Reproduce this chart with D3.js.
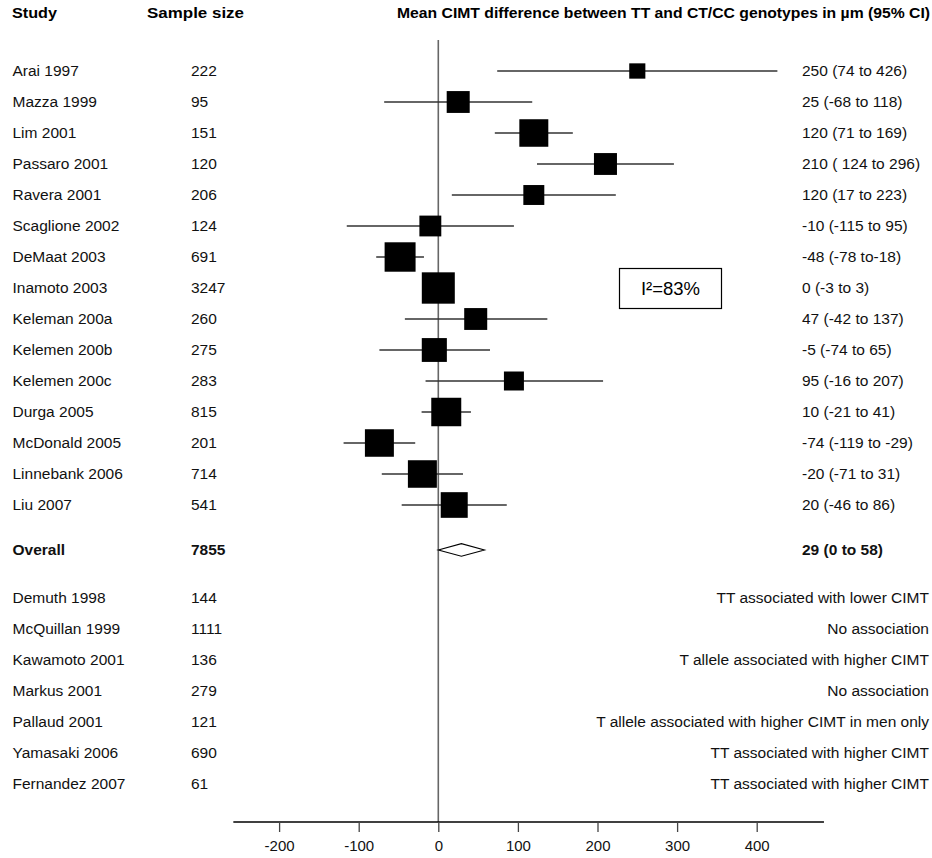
<!DOCTYPE html>
<html>
<head>
<meta charset="utf-8">
<script src="https://cdn.jsdelivr.net/npm/d3@7"></script>
<style>
  html, body { margin: 0; padding: 0; background: #fff; }
  svg { display: block; font-family: "Liberation Sans", Arial, Helvetica, sans-serif; }
</style>
</head>
<body>
<svg id="chart" width="932" height="858"></svg>
<script>
// ---------------- DATA ----------------
const studies = ["Arai 1997","Mazza 1999","Lim 2001","Passaro 2001","Ravera 2001","Scaglione 2002",
  "DeMaat 2003","Inamoto 2003","Keleman 200a","Kelemen 200b","Kelemen 200c","Durga 2005",
  "McDonald 2005","Linnebank 2006","Liu 2007"];
const sampleSizes = [222,95,151,120,206,124,691,3247,260,275,283,815,201,714,541];
const meanDiff = [250,25,120,210,120,-10,-48,0,47,-5,95,10,-74,-20,20];
const ciLow    = [74,-68,71,124,17,-115,-78,-3,-42,-74,-16,-21,-119,-71,-46];
const ciHigh   = [426,118,169,296,223,95,-18,3,137,65,207,41,-29,31,86];
const weights  = [2.6,5.3,8.4,5.3,4.4,4.8,9.6,10.9,5.3,6.3,4.0,9.0,8.4,8.4,7.3]; // relative weight (%)
const ciLabels = ["250 (74 to 426)","25 (-68 to 118)","120 (71 to 169)","210 ( 124 to 296)",
  "120 (17 to 223)","-10 (-115 to 95)","-48 (-78 to-18)","0 (-3 to 3)","47 (-42 to 137)",
  "-5 (-74 to 65)","95 (-16 to 207)","10 (-21 to 41)","-74 (-119 to -29)","-20 (-71 to 31)",
  "20 (-46 to 86)"];

const overall = {label: "Overall", n: 7855, mean: 29, lo: 0, hi: 58, text: "29 (0 to 58)"};
const heterogeneity = "I\u00B2=83%";

const narrStudies = ["Demuth 1998","McQuillan 1999","Kawamoto 2001","Markus 2001","Pallaud 2001",
  "Yamasaki 2006","Fernandez 2007"];
const narrSizes = [144,1111,136,279,121,690,61];
const narrResults = ["TT associated with lower CIMT","No association","T allele associated with higher CIMT",
  "No association","T allele associated with higher CIMT in men only","TT associated with higher CIMT",
  "TT associated with higher CIMT"];

const xTicks = [-200,-100,0,100,200,300,400];
const headers = ["Study","Sample size","Mean CIMT difference between TT and CT/CC genotypes in \u00B5m (95% CI)"];

// ---------------- LAYOUT ----------------
const svg = d3.select("#chart");
const x = d3.scaleLinear().domain([-200, 400]).range([279.1, 756.7]);
const xDomainLine = [-257.5, 484.5];
const row = d3.scaleLinear().domain([0, 1]).range([71, 102]); // slot -> y
const size = d3.scaleSqrt().domain([0, 10.9]).range([0, 33]);

const colStudy = 12.5, colN = 191, colCI = 802, colRight = 929;
const fs = 15.5;
const axisY = 822;

// headers
const hdrX = [12, 147, 397], hdrW = [45, 97, 533];
svg.selectAll("text.hdr").data(headers).join("text")
  .attr("class","hdr")
  .attr("x",(d,i)=>hdrX[i]).attr("y",18)
  .attr("font-weight","bold").attr("font-size",15)
  .attr("textLength",(d,i)=>hdrW[i]).attr("lengthAdjust","spacingAndGlyphs")
  .attr("fill","#000")
  .text(d=>d);

// zero line
svg.append("line")
  .attr("x1", x(0)).attr("x2", x(0))
  .attr("y1", 40).attr("y2", axisY)
  .attr("stroke","#666").attr("stroke-width",1.6);

// study rows
const rows = studies.map((s,i)=>({s, n:sampleSizes[i], m:meanDiff[i], lo:ciLow[i], hi:ciHigh[i], w:weights[i], lab:ciLabels[i], slot:i}));

const g = svg.append("g");
g.selectAll("line.ci").data(rows).join("line")
  .attr("class","ci")
  .attr("x1",d=>x(d.lo)).attr("x2",d=>x(d.hi))
  .attr("y1",d=>row(d.slot)).attr("y2",d=>row(d.slot))
  .attr("stroke","#333").attr("stroke-width",1.3);

g.selectAll("rect.sq").data(rows).join("rect")
  .attr("class","sq")
  .attr("x",d=>x(d.m)-size(d.w)/2)
  .attr("y",d=>row(d.slot)-size(d.w)/2*0.95)
  .attr("width",d=>size(d.w))
  .attr("height",d=>size(d.w)*0.95)
  .attr("fill","#000");

function textCol(data, xPos, accessor, opts={}) {
  svg.append("g").selectAll("text").data(data).join("text")
    .attr("x", xPos)
    .attr("y", d=>d.y)
    .attr("dy","0.35em")
    .attr("font-size", opts.size || fs)
    .attr("font-weight", opts.bold ? "bold" : "normal")
    .attr("text-anchor", opts.anchor || "start")
    .attr("fill","#111")
    .text(accessor);
}

const rowsY = rows.map(d=>({...d, y: row(d.slot)}));
textCol(rowsY, colStudy, d=>d.s);
textCol(rowsY, colN, d=>d.n);
textCol(rowsY, colCI, d=>d.lab);

// overall
const oSlot = 15.45;
const oy = row(oSlot);
textCol([{y:oy}], colStudy, ()=>overall.label, {bold:true});
textCol([{y:oy}], colN, ()=>overall.n, {bold:true});
textCol([{y:oy}], colCI, ()=>overall.text, {bold:true});
const dh = 6.3;
svg.append("path")
  .attr("d", d3.line()([[x(overall.lo), oy],[x(overall.mean), oy-dh],[x(overall.hi), oy],[x(overall.mean), oy+dh]]) + "Z")
  .attr("fill","#fff").attr("stroke","#000").attr("stroke-width",1.1);

// heterogeneity box
svg.append("rect").attr("x",619.5).attr("y",268.5).attr("width",102).attr("height",40)
  .attr("fill","#fff").attr("stroke","#000").attr("stroke-width",1.2);
svg.append("text").attr("x",670.5).attr("y",288.5).attr("dy","0.36em")
  .attr("text-anchor","middle").attr("font-size",18.5).attr("fill","#000")
  .text(heterogeneity);

// narrative studies
const narr = narrStudies.map((s,i)=>({s, n:narrSizes[i], r:narrResults[i], y: row(17+i)}));
textCol(narr, colStudy, d=>d.s);
textCol(narr, colN, d=>d.n);
textCol(narr, colRight, d=>d.r, {anchor:"end"});

// x axis
const axG = svg.append("g").attr("transform",`translate(0,${axisY})`);
axG.append("line").attr("x1",x(xDomainLine[0])).attr("x2",x(xDomainLine[1]))
  .attr("y1",0).attr("y2",0).attr("stroke","#000").attr("stroke-width",1.3);
const axis = d3.axisBottom(x).tickValues(xTicks).tickSize(10).tickPadding(8).tickFormat(d=>String(d));
const ax = axG.append("g").call(axis);
ax.select(".domain").remove();
ax.selectAll(".tick line").attr("stroke","#444").attr("stroke-width",1.3);
ax.selectAll(".tick text").attr("font-size",15).attr("fill","#111")
  .attr("font-family",'"Liberation Sans", Arial, sans-serif');
</script>
</body>
</html>
